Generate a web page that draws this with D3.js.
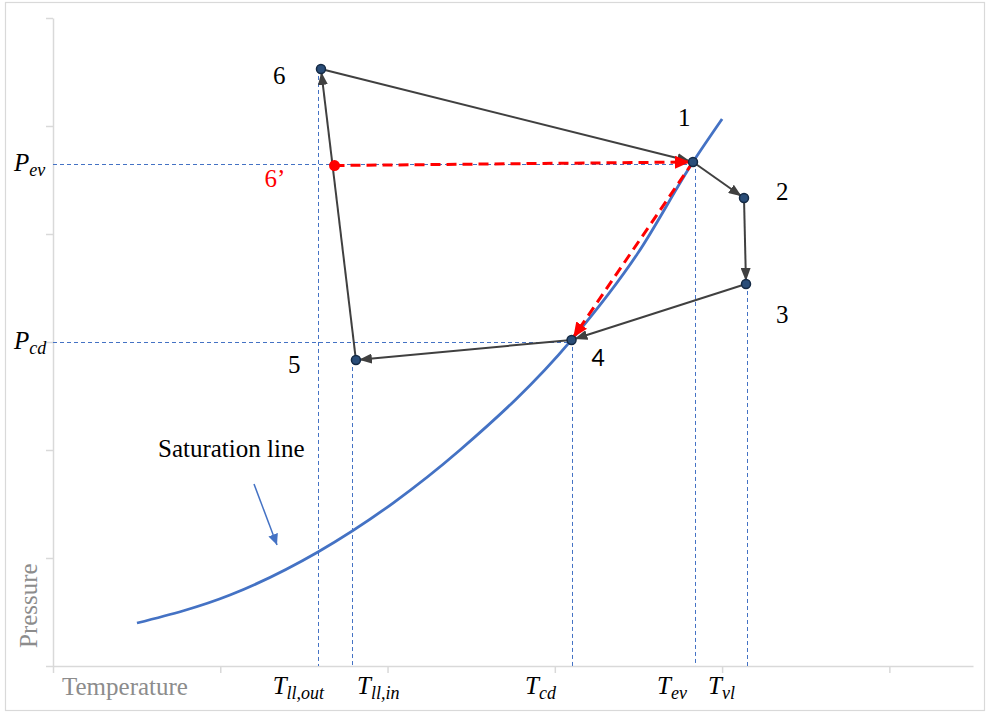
<!DOCTYPE html>
<html>
<head>
<meta charset="utf-8">
<script src="https://cdn.jsdelivr.net/npm/d3@7"></script>
<style>
  html, body { margin: 0; padding: 0; background: #fff; }
  svg { display: block; }
</style>
</head>
<body>
<svg id="chart" width="991" height="714"></svg>
<script>
// Refrigeration cycle with liquid-line / vapour-line heat exchange on a P–T diagram.
// Values are in arbitrary temperature (x) and pressure (y) units.

// Cycle states, in drawing order
const stateNames = ["6", "1", "2", "3", "4", "5"];
const stateT = [1.602, 3.826, 4.131, 4.143, 3.100, 1.811];
const stateP = [5.528, 4.667, 4.333, 3.537, 3.019, 2.833];

// Intermediate state 6' on the evaporator pressure line
const state6pT = 1.683;
const state6pP = 4.634;

// Saturation curve samples
const satT = [0.502, 1.058, 1.584, 2.033, 2.433, 3.100, 3.497, 3.826, 4.000];
const satP = [0.398, 0.657, 1.056, 1.509, 2.000, 3.019, 3.824, 4.667, 5.065];

// Characteristic pressures (horizontal guides)
const pressureNames = ["ev", "cd"];
const pressureValues = [4.645, 3.003];
const pressureEndT = [3.826, 3.100];

// Characteristic temperatures (vertical guides)
const tempNames = ["ll,out", "ll,in", "cd", "ev", "vl"];
const tempValues = [1.582, 1.788, 3.103, 3.838, 4.149];
const tempTopP = [5.528, 2.833, 3.019, 4.667, 3.537];

// Axis ticks
const xTicks = [0, 1, 2, 3, 4, 5];
const yTicks = [0, 1, 2, 3, 4, 5, 6];

// ---- layout ----
const svg = d3.select("#chart");
const plot = { left: 53, right: 973, top: 18, bottom: 666 };

const x = d3.scaleLinear().domain([0, 5.5]).range([plot.left, plot.right]);
const y = d3.scaleLinear().domain([0, 6]).range([plot.bottom, plot.top]);
const crisp = v => Math.round(v) + 0.5;

const serif = "'Liberation Serif', 'Times New Roman', serif";
const axisGrey = "#d9d9d9";
const guideBlue = "#4472c4";
const cycleGrey = "#404040";

// outer frame
svg.append("rect")
  .attr("x", 5.5).attr("y", 2.5).attr("width", 979).attr("height", 708)
  .attr("fill", "#fff").attr("stroke", axisGrey).attr("stroke-width", 1.2);

// arrow heads
const defs = svg.append("defs");
function arrowMarker(id, color, len, wid) {
  defs.append("marker")
    .attr("id", id)
    .attr("markerUnits", "userSpaceOnUse")
    .attr("viewBox", `0 0 ${len} ${wid}`)
    .attr("markerWidth", len).attr("markerHeight", wid)
    .attr("refX", len).attr("refY", wid / 2)
    .attr("orient", "auto")
    .append("path")
    .attr("d", `M0,0 L${len},${wid / 2} L0,${wid} Z`)
    .attr("fill", color);
}
arrowMarker("arrDark", cycleGrey, 13, 10);
arrowMarker("arrRed", "#ff0000", 15, 13);
arrowMarker("arrBlue", guideBlue, 11, 10);

// axes
const xAxis = d3.axisBottom(x).tickValues(xTicks).tickFormat("").tickSizeInner(7).tickSizeOuter(0);
const gx = svg.append("g").attr("transform", `translate(0,${plot.bottom})`).call(xAxis);
gx.select(".domain").attr("stroke", axisGrey).attr("stroke-width", 1.5);
gx.selectAll(".tick line").attr("stroke", axisGrey).attr("stroke-width", 1.5);

const yAxis = d3.axisLeft(y).tickValues(yTicks).tickFormat("").tickSizeInner(7).tickSizeOuter(0);
const gy = svg.append("g").attr("transform", `translate(${plot.left},0)`).call(yAxis);
gy.select(".domain").attr("stroke", axisGrey).attr("stroke-width", 1.5);
gy.selectAll(".tick line").attr("stroke", axisGrey).attr("stroke-width", 1.5);

// axis titles
svg.append("text")
  .attr("x", 62).attr("y", 695)
  .attr("font-family", serif).attr("font-size", 25).attr("fill", "#8c8c8c")
  .text("Temperature");
svg.append("text")
  .attr("transform", "translate(37,648) rotate(-90)")
  .attr("font-family", serif).attr("font-size", 25).attr("fill", "#8c8c8c")
  .text("Pressure");

// guide lines
const guides = svg.append("g")
  .attr("stroke", guideBlue).attr("stroke-width", 1).attr("stroke-dasharray", "4,3").attr("fill", "none");
pressureValues.forEach((p, i) => {
  guides.append("line")
    .attr("x1", x(0)).attr("x2", x(pressureEndT[i]))
    .attr("y1", crisp(y(p))).attr("y2", crisp(y(p)));
});
tempValues.forEach((t, i) => {
  guides.append("line")
    .attr("x1", crisp(x(t))).attr("x2", crisp(x(t)))
    .attr("y1", y(tempTopP[i])).attr("y2", y(0));
});

// math-style labels with subscript
function mathLabel(xp, yp, main, sub, color) {
  const t = svg.append("text")
    .attr("x", xp).attr("y", yp)
    .attr("font-family", serif).attr("font-style", "italic")
    .attr("font-size", 25).attr("fill", color || "#000");
  t.append("tspan").text(main);
  t.append("tspan").attr("font-size", 18).attr("dy", 5).text(sub);
  return t;
}
pressureNames.forEach((n, i) => {
  mathLabel(14, y(pressureValues[i]) + 7, "P", n);
});

// temperature labels (start offset from each guide, px)
const tempLabelDx = [-45, 5, -47, -38, -39];
tempNames.forEach((n, i) => {
  mathLabel(x(tempValues[i]) + tempLabelDx[i], 694, "T", n);
});

// saturation curve
const satLine = d3.line().x(d => x(d[0])).y(d => y(d[1])).curve(d3.curveMonotoneX);
svg.append("path")
  .datum(satT.map((t, i) => [t, satP[i]]))
  .attr("d", satLine)
  .attr("fill", "none").attr("stroke", "#4472c4").attr("stroke-width", 2.8);

// saturation line annotation
svg.append("text")
  .attr("x", 158).attr("y", 457)
  .attr("font-family", serif).attr("font-size", 25).attr("fill", "#000")
  .text("Saturation line");
svg.append("line")
  .attr("x1", 254).attr("y1", 484).attr("x2", 277).attr("y2", 545)
  .attr("stroke", guideBlue).attr("stroke-width", 1.5)
  .attr("marker-end", "url(#arrBlue)");

// segment shortened at its end so the arrow tip sits on the marker edge
function arrowSeg(g, p0, p1, gap) {
  const x0 = x(p0[0]), y0 = y(p0[1]), x1 = x(p1[0]), y1 = y(p1[1]);
  const L = Math.hypot(x1 - x0, y1 - y0);
  const ux = (x1 - x0) / L, uy = (y1 - y0) / L;
  return g.append("line")
    .attr("x1", x0).attr("y1", y0)
    .attr("x2", x1 - ux * gap).attr("y2", y1 - uy * gap);
}

// cycle 6 → 1 → 2 → 3 → 4 → 5 → 6
const states = stateNames.map((n, i) => ({ name: n, t: stateT[i], p: stateP[i] }));
const cycle = svg.append("g").attr("stroke", cycleGrey).attr("stroke-width", 2);
states.forEach((s, i) => {
  const nxt = states[(i + 1) % states.length];
  arrowSeg(cycle, [s.t, s.p], [nxt.t, nxt.p], 3).attr("marker-end", "url(#arrDark)");
});

// alternative path 6' → 1 → 4 (red dashed)
const red = svg.append("g").attr("stroke", "#ff0000").attr("stroke-width", 3)
  .attr("stroke-dasharray", "10,6").attr("fill", "none");
const s1 = states[1], s4 = states[4];
arrowSeg(red, [state6pT, state6pP], [s1.t, s1.p], 3).attr("marker-end", "url(#arrRed)");
arrowSeg(red, [s1.t, s1.p], [s4.t, s4.p], 3).attr("marker-end", "url(#arrRed)");

// state markers
svg.append("g").selectAll("circle")
  .data(states).join("circle")
  .attr("cx", d => x(d.t)).attr("cy", d => y(d.p)).attr("r", 4.5)
  .attr("fill", "#2a4d78").attr("stroke", "#142a45").attr("stroke-width", 1.5);
svg.append("circle")
  .attr("cx", x(state6pT)).attr("cy", y(state6pP)).attr("r", 5.5)
  .attr("fill", "#ff0000");

// state labels (offset from marker, px)
const stateLabelOffset = {
  "6": [-48, 15], "1": [-15, -36], "2": [32, 2], "3": [30, 39], "4": [20, 26], "5": [-68, 13]
};
states.forEach(s => {
  const o = stateLabelOffset[s.name];
  svg.append("text")
    .attr("x", x(s.t) + o[0]).attr("y", y(s.p) + o[1])
    .attr("font-family", s.name === "4" ? "Lato, 'Open Sans', sans-serif" : serif)
    .attr("font-size", s.name === "4" ? 23 : 25)
    .attr("fill", "#000")
    .text(s.name);
});
svg.append("text")
  .attr("x", x(state6pT) - 70).attr("y", y(state6pP) + 21)
  .attr("font-family", serif).attr("font-size", 25).attr("fill", "#ff0000")
  .text("6\u2019");
</script>
</body>
</html>
